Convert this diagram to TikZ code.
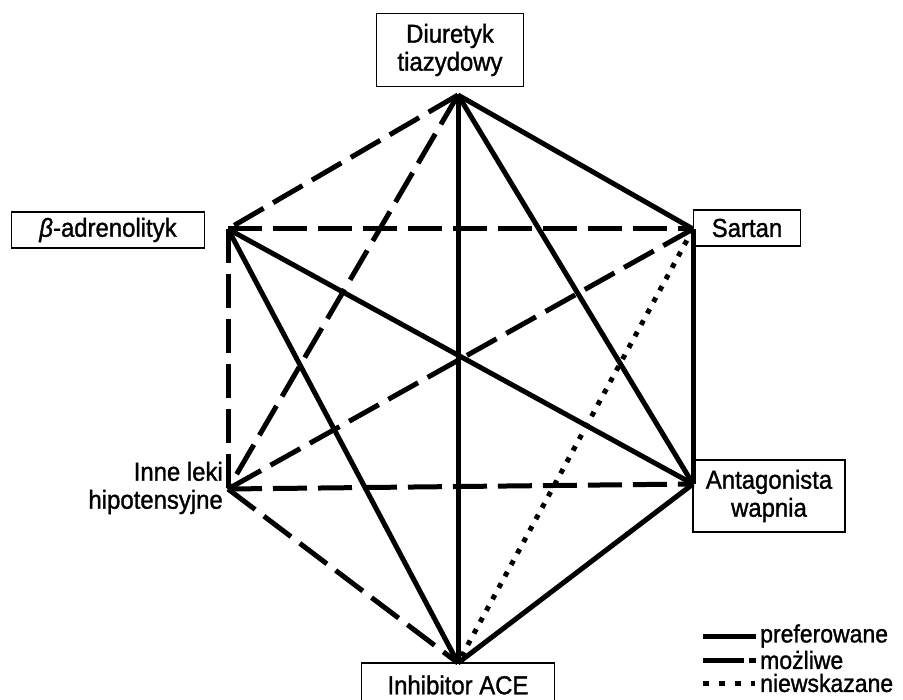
\documentclass[tikz,border=0pt]{standalone}
\usepackage{fontspec}
\setmainfont{Liberation Sans}[FakeBold=1.2,FakeStretch=0.92]
\usetikzlibrary{positioning}

\tikzset{
  lekbox/.style={draw,line width=1.6pt,inner sep=0pt,align=center,
    font=\fontsize{26}{28}\selectfont},
  pref/.style={line width=5pt},
  mozl/.style={line width=5pt,dash pattern=on 34pt off 11pt},
  niew/.style={line width=5pt,dash pattern=on 5pt off 8pt},
}

\begin{document}
\begin{tikzpicture}[x=1pt,y=-1pt]
    \useasboundingbox (0,0) rectangle (903,700);
    % naroznik szesciokata
    \coordinate (diu) at (458,95);
    \coordinate (sar) at (693,229);
    \coordinate (ant) at (693,484);
    \coordinate (ace) at (458,663);
    \coordinate (inn) at (228,489);
    \coordinate (bet) at (228,229);
    % opisy
    \node[lekbox,minimum width=147pt,minimum height=73pt] (diutxt) at (450,50)
      {Diuretyk\\tiazydowy};
    \node[lekbox,minimum width=193pt,minimum height=36pt] (bettxt) at (108,230)
      {\textit{β}-adrenolityk};
    \node[lekbox,minimum width=107pt,minimum height=36pt] (sartxt) at (747,228)
      {Sartan};
    \node[lekbox,minimum width=152pt,minimum height=72pt] (anttxt) at (769,496)
      {Antagonista\\wapnia};
    \node[lekbox,minimum width=193pt,minimum height=44pt] (acetxt) at (458,685)
      {Inhibitor ACE};
    \node[align=right,anchor=east,inner sep=0pt,
      font=\fontsize{26}{28}\selectfont] (inntxt) at (223,488)
      {Inne leki\\hipotensyjne};
    % polaczenia
    \draw[pref] (diu) -- (sar);
    \draw[pref] (diu) -- (ace);
    \draw[pref] (diu) -- (ant);
    \draw[pref] (bet) -- (ant);
    \draw[pref] (bet) -- (ace);
    \draw[pref] (sar) -- (ant);
    \draw[pref] (ant) -- (ace);
    \draw[mozl] (diu) -- (bet);
    \draw[mozl] (diu) -- (inn);
    \draw[mozl] (bet) -- (sar);
    \draw[mozl] (bet) -- (inn);
    \draw[mozl] (sar) -- (inn);
    \draw[mozl] (inn) -- (ant);
    \draw[mozl] (inn) -- (ace);
    \draw[niew] (sar) -- (ace);
    % legenda
    \coordinate (l1a) at (703,636); \coordinate (l1b) at (756,636);
    \coordinate (l2a) at (703,660); \coordinate (l2b) at (756,660);
    \coordinate (l3a) at (703,683); \coordinate (l3b) at (755,683);
    \draw[pref] (l1a) -- (l1b);
    \draw[line width=5pt,dash pattern=on 41pt off 5pt] (l2a) -- (l2b);
    \draw[line width=5pt,dash pattern=on 6pt off 10pt] (l3a) -- (l3b);
    \node[anchor=west,inner sep=0pt,font=\fontsize{25}{26}\selectfont]
      (lg1) at (760,636) {preferowane};
    \node[anchor=west,inner sep=0pt,font=\fontsize{25}{26}\selectfont]
      (lg2) at (760,660) {możliwe};
    \node[anchor=west,inner sep=0pt,font=\fontsize{25}{26}\selectfont]
      (lg3) at (760,683) {niewskazane};
\end{tikzpicture}
\end{document}
